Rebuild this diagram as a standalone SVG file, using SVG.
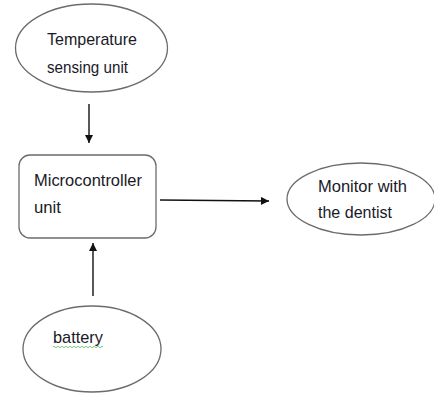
<svg xmlns="http://www.w3.org/2000/svg" width="434" height="393" viewBox="0 0 434 393">
<style>
.shape{fill:#fff;stroke:#6b6b6b;stroke-width:1.3}
.lbl{font-family:"Liberation Sans",Arial,sans-serif;font-size:17px;fill:#1a1a28}
.conn{stroke:#111;stroke-width:1.4;fill:none}
</style>
<defs>
<marker id="ah" viewBox="0 0 10 10" refX="10" refY="5" markerWidth="9" markerHeight="8" markerUnits="userSpaceOnUse" orient="auto">
<path d="M0,0 L10,5 L0,10 z" fill="#111"/>
</marker>
</defs>
<rect width="434" height="393" fill="#fff"/>
<g id="temp">
<ellipse class="shape" cx="91.5" cy="48" rx="76" ry="44"/>
<text class="lbl" x="47" y="45" textLength="90" lengthAdjust="spacingAndGlyphs">Temperature</text>
<text class="lbl" x="47" y="73" textLength="81" lengthAdjust="spacingAndGlyphs">sensing unit</text>
</g>
<g id="mcu">
<rect class="shape" x="19" y="155" width="137" height="83" rx="11"/>
<text class="lbl" x="34" y="186" textLength="108" lengthAdjust="spacingAndGlyphs">Microcontroller</text>
<text class="lbl" x="34" y="213" textLength="27" lengthAdjust="spacingAndGlyphs">unit</text>
</g>
<g id="monitor">
<ellipse class="shape" cx="361" cy="199" rx="74" ry="36"/>
<text class="lbl" x="318" y="192" textLength="89" lengthAdjust="spacingAndGlyphs">Monitor with</text>
<text class="lbl" x="318" y="218" textLength="74" lengthAdjust="spacingAndGlyphs">the dentist</text>
</g>
<g id="battery">
<ellipse class="shape" cx="92" cy="349" rx="69" ry="43"/>
<text class="lbl" x="53" y="343" textLength="50" lengthAdjust="spacingAndGlyphs">battery</text>
<path d="M53,347 q1,-1.5 2,0 t2,0 t2,0 t2,0 t2,0 t2,0 t2,0 t2,0 t2,0 t2,0 t2,0 t2,0 t2,0 t2,0 t2,0 t2,0 t2,0 t2,0 t2,0 t2,0 t2,0 t2,0 t2,0 t2,0 t2,0" fill="none" stroke="#5cb85c" stroke-width="0.8"/>
</g>
<g id="connectors">
<line class="conn" x1="89" y1="104" x2="89" y2="143" marker-end="url(#ah)"/>
<line class="conn" x1="160" y1="200" x2="269" y2="201" marker-end="url(#ah)"/>
<line class="conn" x1="93" y1="296" x2="93" y2="243" marker-end="url(#ah)"/>
</g>
</svg>
